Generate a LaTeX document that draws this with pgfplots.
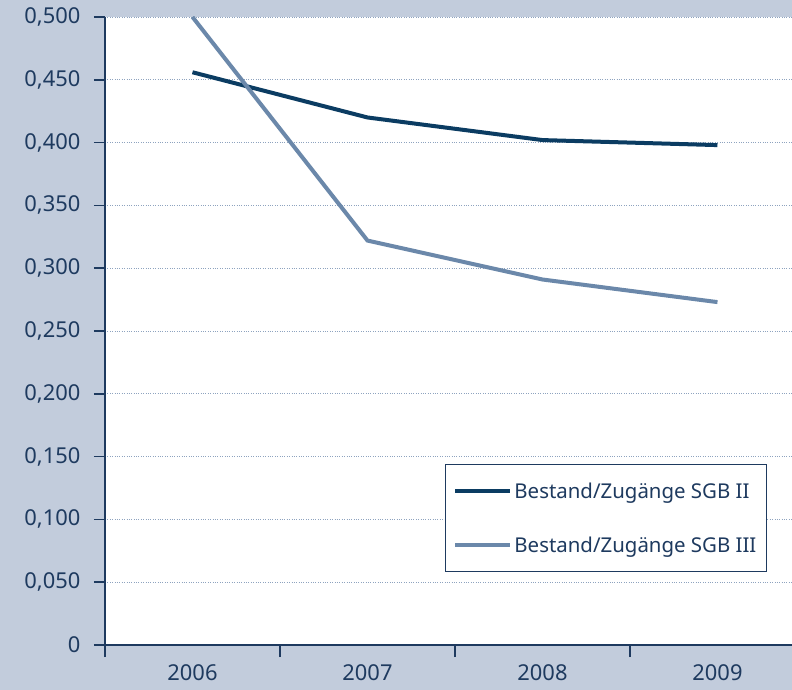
\documentclass[border=0pt]{standalone}
\usepackage{pgfplots}
\pgfplotsset{compat=1.18}
\usepackage{fontspec}
\setmainfont{Noto Sans}
\definecolor{bgblue}{HTML}{C2CCDC}
\definecolor{darkline}{HTML}{0B3C62}
\definecolor{lightline}{HTML}{6B88AA}
\definecolor{txtblue}{HTML}{1E3A5F}
\definecolor{gridblue}{HTML}{8EA3BF}

\begin{document}
\begin{tikzpicture}[x=1bp,y=1bp]
\useasboundingbox (0,0) rectangle (792,690);
\fill[bgblue] (0,0) rectangle (792,690);
\begin{axis}[
  at={(105bp,45bp)}, anchor=south west,
  scale only axis,
  width=687bp, height=628bp,
  axis background/.style={fill=white},
  axis x line*=bottom, axis y line*=left,
  axis line style={draw=txtblue, line width=1.5pt},
  xmin=-0.5, xmax=3.426,
  ymin=0, ymax=0.5,
  xtick={0,1,2,3},
  xticklabels={2006,2007,2008,2009},
  minor xtick={-0.5,0.5,1.5,2.5},
  major x tick style={draw=none},
  minor x tick style={draw=txtblue, line width=1.5pt},
  minor tick length=12bp,
  ytick={0,0.05,...,0.5},
  yticklabels={0,{0,050},{0,100},{0,150},{0,200},{0,250},{0,300},{0,350},{0,400},{0,450},{0,500}},
  major y tick style={draw=txtblue, line width=1.5pt},
  major tick length=11bp,
  tick align=outside,
  ymajorgrids,
  major grid style={draw=gridblue, dotted, line width=0.9pt},
  ticklabel style={font=\fontsize{22}{26}\selectfont, text=txtblue},
  yticklabel style={xshift=-10bp},
  xticklabel style={yshift=-7bp, inner ysep=1bp},
  legend style={at={(0.495,0.288)}, anchor=north west, draw=txtblue, line width=0.8pt,
    font=\fontsize{20.5}{24}\selectfont, text=txtblue, row sep=33bp,
    inner xsep=8bp, inner ysep=16bp},
  legend cell align=left,
  legend image code/.code={\draw[#1, line width=4bp] (0bp,0bp) -- (47bp,0bp);
    \path (47bp,0bp) -- (55bp,0bp);},
]
\addplot[darkline, line width=4bp] coordinates {(0,0.456) (1,0.420) (2,0.402) (3,0.398)};
\addlegendentry{Bestand/Zugänge SGB II}
\addplot[lightline, line width=4bp] coordinates {(0,0.500) (1,0.322) (2,0.291) (3,0.273)};
\addlegendentry{Bestand/Zugänge SGB III\hspace{9bp}}
\end{axis}
\end{tikzpicture}
\end{document}
